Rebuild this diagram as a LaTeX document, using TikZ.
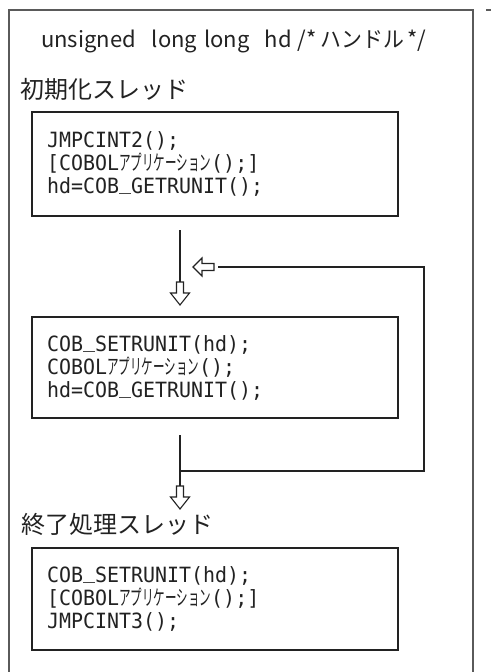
\documentclass[tikz,border=0pt]{standalone}
\usepackage{fontspec}
\newfontfamily\jpfont{Noto Sans CJK JP}
\newfontfamily\jpnarrow{Noto Sans CJK JP}[FakeStretch=0.55]
\newfontfamily\jptitlekana{Noto Sans CJK JP}[FakeStretch=0.95]
\newfontfamily\codefont{DejaVu Sans Mono}[FakeStretch=0.95]
\newcommand\hwkana[1]{{\jpnarrow #1}}
\newcommand\uscore{\raisebox{4pt}{\_}}
\definecolor{ink}{HTML}{222222}
\definecolor{framegray}{HTML}{5A5A5A}
\begin{document}
\begin{tikzpicture}[x=1pt,y=-1pt,
  frame/.style={draw=framegray,line width=1.8pt},
  flow/.style={draw=ink,line width=1.2pt},
  hollow/.style={draw=ink,line width=1.1pt,fill=white,line join=miter},
  codebox/.style={draw=ink,line width=1.4pt,minimum width=366pt,
    text width=336pt,inner xsep=15pt,inner ysep=0pt,align=left,
    text=ink,font=\codefont\fontsize{21}{23}\selectfont},
  titletext/.style={inner sep=0pt,text=ink,font=\jpfont\fontsize{22}{24}\selectfont},
  heading/.style={inner sep=0pt,text=ink,font=\jpfont\fontsize{24}{26}\selectfont},
  downhead/.pic={\path[hollow] (-3.5,-23) -- (3.5,-23) -- (3.5,-12) -- (9.5,-12)
     -- (0,0) -- (-9.5,-12) -- (-3.5,-12) -- cycle;},
  lefthead/.pic={\path[hollow] (0,0) -- (9,-9) -- (9,-3.5) -- (21,-3.5)
     -- (21,3.5) -- (9,3.5) -- (9,9) -- cycle;}
]
\useasboundingbox (0,0) rectangle (491,672);
\fill[white] (0,0) rectangle (491,672);

% outer frame (continues below the picture)
\draw[frame] (9,672) -- (9,10) -- (473,10) -- (473,672);
\draw[frame] (486,10) -- (491,10);

% title and headings
\node[titletext,anchor=base west] (title) at (41,47)
  {unsigned\hspace{16pt}long\hspace{7pt}long\hspace{15pt}hd\hspace{6pt}/*\hspace{4pt}{\jptitlekana ハンドル}\hspace{3pt}*/};
\node[heading,anchor=base west] (h1) at (20,98) {初期化スレッド};
\node[heading,anchor=base west] (h2) at (21,533) {終了処理スレッド};

% code boxes
\node[codebox,minimum height=104pt] (b1) at (215,164)
  {JMPCINT2();\\{}[COBOL\hwkana{アプリケーション}();]\\hd=COB\uscore GETRUNIT();};
\node[codebox,minimum height=101pt] (b2) at (215,367.5)
  {COB\uscore SETRUNIT(hd);\\COBOL\hwkana{アプリケーション}();\\hd=COB\uscore GETRUNIT();};
\node[codebox,minimum height=102pt] (b3) at (215,599)
  {COB\uscore SETRUNIT(hd);\\{}[COBOL\hwkana{アプリケーション}();]\\JMPCINT3();};

% connectors
\coordinate (s1) at (180,230);
\coordinate (a1top) at (180,282);
\coordinate (a1tip) at (180,305);
\coordinate (s2) at (180,435);
\coordinate (a2top) at (180,486);
\coordinate (a2tip) at (180,509);
\coordinate (l0) at (218,267);
\coordinate (l1) at (424,267);
\coordinate (l2) at (424,471);
\coordinate (l3) at (180,471);
\coordinate (lhtip) at (193,267);

\draw[flow] (s1) -- (a1top);
\draw[flow] (s2) -- (a2top);
\draw[flow] (l0) -- (l1) -- (l2) -- (l3);
\pic at (a1tip) {downhead};
\pic at (a2tip) {downhead};
\pic at (lhtip) {lefthead};
\end{tikzpicture}
\end{document}
